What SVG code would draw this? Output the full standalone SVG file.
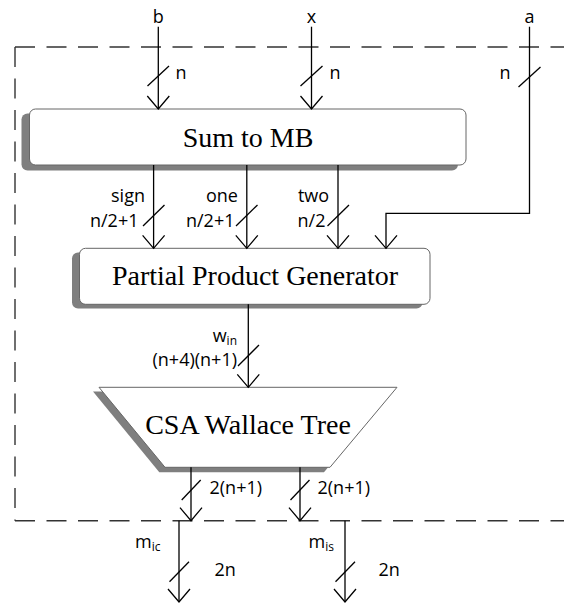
<svg xmlns="http://www.w3.org/2000/svg" width="564" height="603" viewBox="0 0 564 603">
  <style>
    .wire { fill: none; stroke: #000; stroke-width: 1.3; }
    .tick { fill: none; stroke: #000; stroke-width: 1.3; }
    .frame { fill: none; stroke: #333; stroke-width: 1.4; stroke-dasharray: 20 11.5; }
    .box { fill: #fff; stroke: #666; stroke-width: 1; }
    .shadow { fill: #7f7f7f; stroke: none; }
    .title { font-family: "Liberation Serif", "Times New Roman", serif; font-size: 28px; fill: #000; text-anchor: middle; }
    .lbl { font-family: "Open Sans", "Liberation Sans", sans-serif; font-size: 18px; fill: #000; }
    .mid { text-anchor: middle; }
    .end { text-anchor: end; }
    .sub { font-size: 12px; }
  </style>
  <defs>
    <marker id="vhead" markerUnits="userSpaceOnUse" viewBox="0 0 30 30" markerWidth="30" markerHeight="30" refX="15" refY="15" orient="auto">
      <path d="M2,4 L15,15 L2,26" fill="none" stroke="#000" stroke-width="1.3"/>
    </marker>
  </defs>

  <rect width="564" height="603" fill="#fff"/>

  <!-- dashed boundary of the multiplier block (right side runs off the page) -->
  <g id="boundary">
    <path class="frame" d="M15,47 H580"/>
    <path class="frame" d="M15,47 V520.7"/>
    <path class="frame" d="M15,520.7 H580"/>
  </g>

  <!-- blocks -->
  <g id="sum-to-mb">
    <rect class="shadow" x="21.5" y="113.5" width="436.5" height="57" rx="6"/>
    <rect class="box" x="29.5" y="109" width="436.5" height="56" rx="6"/>
    <text class="title" x="248" y="146.5">Sum to MB</text>
  </g>

  <g id="pp-generator">
    <rect class="shadow" x="72" y="252.5" width="350.5" height="56" rx="6"/>
    <rect class="box" x="79.5" y="248.3" width="350.5" height="56" rx="6"/>
    <text class="title" x="255" y="285">Partial Product Generator</text>
  </g>

  <g id="csa-wallace-tree">
    <polygon class="shadow" points="93,391.5 391,391.5 324,472.3 159.3,472.3"/>
    <polygon class="box" points="99,387.3 397,387.3 330,467.3 165,467.3"/>
    <text class="title" x="248" y="434.3">CSA Wallace Tree</text>
  </g>

  <!-- connectors with bus-width ticks -->
  <g id="connectors">
    <!-- inputs -->
    <path class="wire" d="M158.3,26.7 V109" marker-end="url(#vhead)"/>
    <path class="tick" d="M147.5,86 L169,66"/>
    <path class="wire" d="M311.5,26.7 V109" marker-end="url(#vhead)"/>
    <path class="tick" d="M300.5,86 L322.5,66"/>
    <path class="wire" d="M529.5,26.7 V213.3 H386 V248.3" marker-end="url(#vhead)"/>
    <path class="tick" d="M518.5,87 L540.5,67"/>

    <!-- Sum to MB -> PPG -->
    <path class="wire" d="M153.6,165 V248.3" marker-end="url(#vhead)"/>
    <path class="tick" d="M143,226 L164.5,205"/>
    <path class="wire" d="M246.8,165 V248.3" marker-end="url(#vhead)"/>
    <path class="tick" d="M236,226 L257.5,205"/>
    <path class="wire" d="M338,165 V248.3" marker-end="url(#vhead)"/>
    <path class="tick" d="M327.5,226 L349,205"/>

    <!-- PPG -> Wallace tree -->
    <path class="wire" d="M248.3,304.3 V387.3" marker-end="url(#vhead)"/>
    <path class="tick" d="M238,366 L259,345"/>

    <!-- Wallace tree outputs -->
    <path class="wire" d="M191,467.3 V520.7" marker-end="url(#vhead)"/>
    <path class="tick" d="M181.7,500 L200.7,480"/>
    <path class="wire" d="M300,467.3 V520.7" marker-end="url(#vhead)"/>
    <path class="tick" d="M290.5,500 L309.5,480"/>

    <!-- outputs leaving the block -->
    <path class="wire" d="M179,520.7 V602" marker-end="url(#vhead)"/>
    <path class="tick" d="M169.5,581.7 L189,561.7"/>
    <path class="wire" d="M345,520.7 V602" marker-end="url(#vhead)"/>
    <path class="tick" d="M335.5,581.7 L355,561.7"/>
  </g>

  <!-- signal names and widths -->
  <g id="labels" class="lbl">
    <text class="lbl mid" x="158.3" y="23">b</text>
    <text class="lbl mid" x="311.5" y="23">x</text>
    <text class="lbl mid" x="529.5" y="23">a</text>
    <text class="lbl" x="175.5" y="79">n</text>
    <text class="lbl" x="329.5" y="79">n</text>
    <text class="lbl" x="499.5" y="79">n</text>

    <text class="lbl mid" x="128" y="202">sign</text>
    <text class="lbl end" x="138.5" y="226.5">n/2+1</text>
    <text class="lbl mid" x="222" y="202">one</text>
    <text class="lbl end" x="234.5" y="226.5">n/2+1</text>
    <text class="lbl mid" x="313.5" y="202">two</text>
    <text class="lbl end" x="325.5" y="226.5">n/2</text>

    <text class="lbl end" x="237" y="341.5">w<tspan class="sub" dy="3">in</tspan></text>
    <text class="lbl end" x="237" y="366">(n+4)(n+1)</text>

    <text class="lbl" x="209.5" y="494">2(n+1)</text>
    <text class="lbl" x="317.5" y="494">2(n+1)</text>

    <text class="lbl" x="135" y="548">m<tspan class="sub" dy="3">ic</tspan></text>
    <text class="lbl" x="308.5" y="548">m<tspan class="sub" dy="3">is</tspan></text>
    <text class="lbl" x="214.5" y="575.5">2n</text>
    <text class="lbl" x="378.5" y="575.5">2n</text>
  </g>
</svg>
